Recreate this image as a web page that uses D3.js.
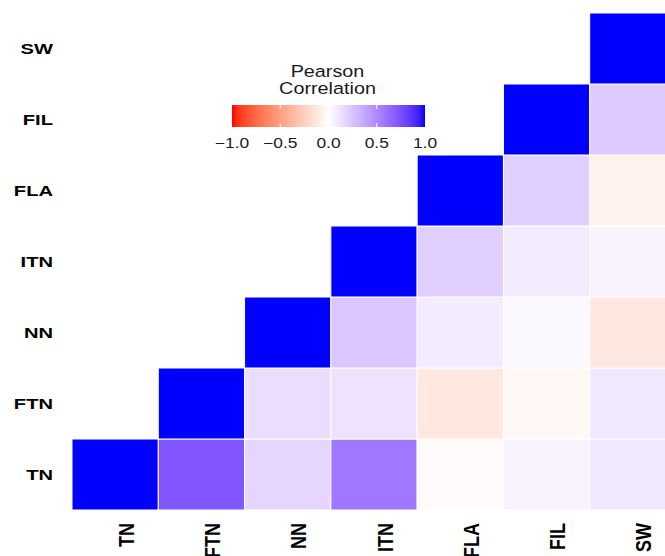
<!DOCTYPE html>
<html>
<head>
<meta charset="utf-8">
<script src="https://cdn.jsdelivr.net/npm/d3@7/dist/d3.min.js"></script>
<style>
  html, body { margin: 0; padding: 0; background: #fff; }
  svg { display: block; font-family: "Liberation Sans", Arial, sans-serif; }
</style>
</head>
<body>
<svg id="chart" width="665" height="556"></svg>
<script>
// Variables, in axis order (left-to-right on x, bottom-to-top on y)
const variables = ["TN", "FTN", "NN", "ITN", "FLA", "FIL", "SW"];

// Upper-triangle Pearson correlations, one array per row variable,
// listing the correlation with each variable from itself onward.
const corrTN  = [1.00, 0.72, 0.17, 0.58, -0.02, 0.05, 0.10];
const corrFTN = [1.00, 0.14, 0.12, -0.12, -0.04, 0.10];
const corrNN  = [1.00, 0.24, 0.08, 0.03, -0.12];
const corrITN = [1.00, 0.20, 0.08, 0.05];
const corrFLA = [1.00, 0.20, -0.07];
const corrFIL = [1.00, 0.22];
const corrSW  = [1.00];

const rowsByVar = { TN: corrTN, FTN: corrFTN, NN: corrNN, ITN: corrITN, FLA: corrFLA, FIL: corrFIL, SW: corrSW };

// Legend
const legendTitle = ["Pearson", "Correlation"];
const legendTicks = [-1.0, -0.5, 0.0, 0.5, 1.0];

const cells = [];
variables.forEach((rv, i) => {
  rowsByVar[rv].forEach((val, k) => {
    cells.push({ row: rv, col: variables[i + k], value: val });
  });
});

const svg = d3.select("#chart");

const x = d3.scaleBand().domain(variables).range([72, 676]);
const y = d3.scaleBand().domain(variables.slice().reverse()).range([13, 510]);

// Diverging red - white - blue fill, interpolated in Lab space
const toBlue = d3.interpolateLab("#ffffff", "#0000ff");
const toRed = d3.interpolateLab("#ffffff", "#ff0000");
const fill = v => (v >= 0 ? toBlue(v) : toRed(-v));

// Heatmap tiles
svg.append("g")
  .selectAll("rect")
  .data(cells)
  .join("rect")
  .attr("x", d => x(d.col))
  .attr("y", d => y(d.row))
  .attr("width", x.bandwidth())
  .attr("height", y.bandwidth())
  .attr("fill", d => fill(d.value))
  .attr("stroke", "#ffffff")
  .attr("stroke-width", 1);

// Y axis labels
svg.append("g")
  .selectAll("text")
  .data(variables)
  .join("text")
  .attr("transform", d => `translate(53,${y(d) + y.bandwidth() / 2}) scale(1.3,1)`)
  .attr("text-anchor", "end")
  .attr("dominant-baseline", "central")
  .attr("font-size", 15.5)
  .attr("font-weight", "bold")
  .attr("fill", "#000")
  .text(d => d);

// X axis labels, rotated
svg.append("g")
  .selectAll("text")
  .data(variables)
  .join("text")
  .attr("transform", d => `translate(${x(d) + x.bandwidth() / 2 + 11},523) scale(1.2,1) rotate(-90)`)
  .attr("text-anchor", "end")
  .attr("dominant-baseline", "central")
  .attr("font-size", 18)
  .attr("font-weight", "bold")
  .attr("fill", "#000")
  .text(d => d);

// Colour bar legend
const lx = d3.scaleLinear().domain([-1, 1]).range([232, 425]);
const barTop = 105, barH = 22;

const defs = svg.append("defs");
const grad = defs.append("linearGradient").attr("id", "corrGrad")
  .attr("x1", "0%").attr("x2", "100%").attr("y1", "0%").attr("y2", "0%");
d3.range(0, 41).forEach(i => {
  const v = -1 + i * 0.05;
  grad.append("stop").attr("offset", `${(i / 40) * 100}%`).attr("stop-color", fill(v));
});

const legend = svg.append("g");
legend.append("rect")
  .attr("x", lx(-1)).attr("y", barTop)
  .attr("width", lx(1) - lx(-1)).attr("height", barH)
  .attr("fill", "url(#corrGrad)");

legend.selectAll("line.tick-top")
  .data(legendTicks.slice(1, -1))
  .join("line")
  .attr("class", "tick-top")
  .attr("x1", d => lx(d)).attr("x2", d => lx(d))
  .attr("y1", barTop).attr("y2", barTop + 4)
  .attr("stroke", "#fff").attr("stroke-width", 1);
legend.selectAll("line.tick-bot")
  .data(legendTicks.slice(1, -1))
  .join("line")
  .attr("class", "tick-bot")
  .attr("x1", d => lx(d)).attr("x2", d => lx(d))
  .attr("y1", barTop + barH - 4).attr("y2", barTop + barH)
  .attr("stroke", "#fff").attr("stroke-width", 1);

legend.selectAll("text.tick-label")
  .data(legendTicks)
  .join("text")
  .attr("class", "tick-label")
  .attr("transform", d => `translate(${lx(d)},148) scale(1.2,1)`)
  .attr("text-anchor", "middle")
  .attr("font-size", 14.5)
  .attr("fill", "#1a1a1a")
  .text(d => d3.format(".1f")(d));

legend.selectAll("text.title")
  .data(legendTitle)
  .join("text")
  .attr("class", "title")
  .attr("transform", (d, i) => `translate(${lx(0) - 1},${77 + i * 17}) scale(1.2,1)`)
  .attr("text-anchor", "middle")
  .attr("font-size", 16.5)
  .attr("fill", "#1a1a1a")
  .text(d => d);
</script>
</body>
</html>
